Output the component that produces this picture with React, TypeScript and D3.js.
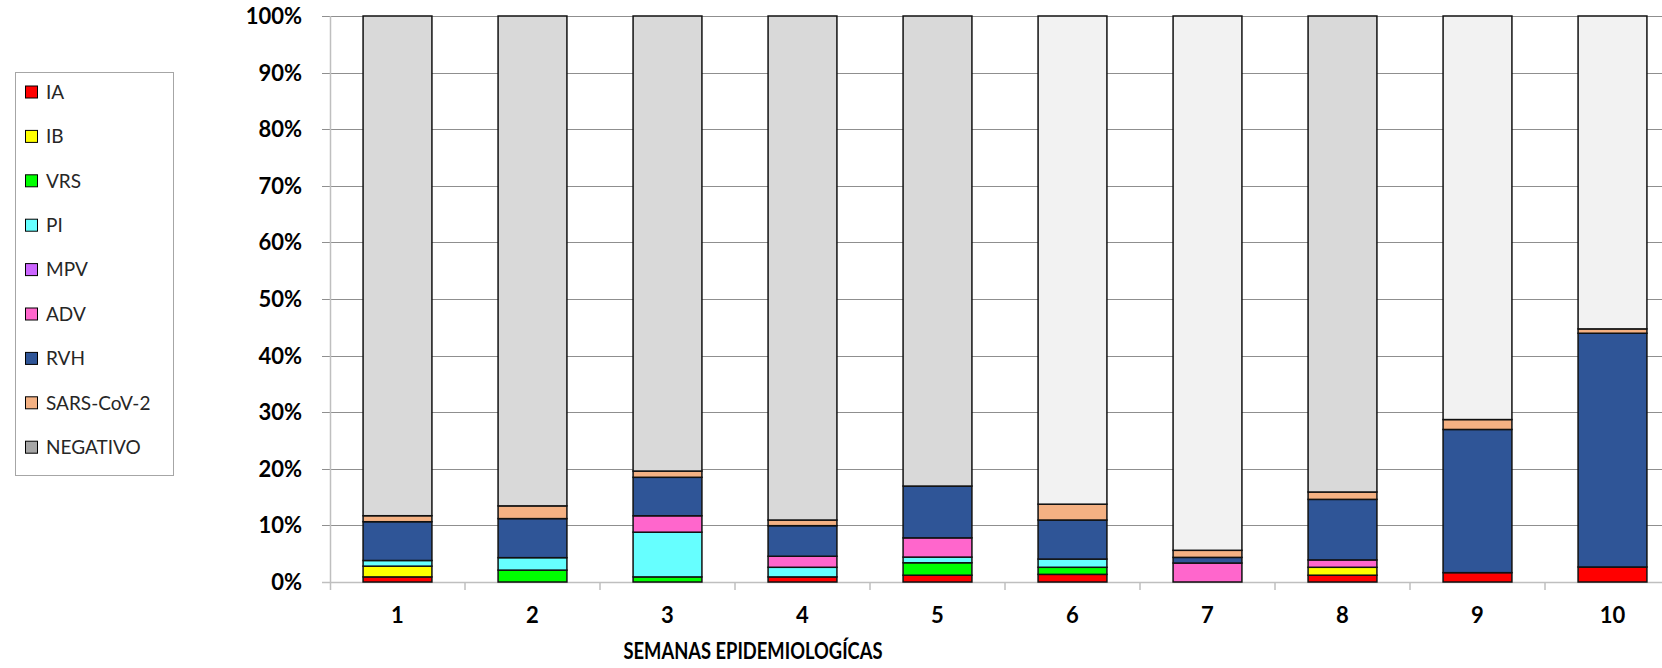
import React from 'react'
import * as d3 from 'd3'

const weeks = ['1', '2', '3', '4', '5', '6', '7', '8', '9', '10']
const seriesKeys = ['IA', 'IB', 'VRS', 'PI', 'MPV', 'ADV', 'RVH', 'SARS-CoV-2', 'NEGATIVO']

// percentages, per week
const ia = [0.9, 0, 0, 0.9, 1.2, 1.35, 0, 1.2, 1.65, 2.65]
const ib = [1.9, 0, 0, 0, 0, 0, 0, 1.4, 0, 0]
const vrs = [0, 2.1, 0.9, 0, 2.2, 1.25, 0, 0, 0, 0]
const pi = [1.0, 2.2, 7.9, 1.7, 1.0, 1.45, 0, 0, 0, 0]
const mpv = [0, 0, 0, 0, 0, 0, 0, 0, 0, 0]
const adv = [0, 0, 2.9, 1.95, 3.4, 0, 3.35, 1.3, 0, 0]
const rvh = [6.85, 6.9, 6.8, 5.4, 9.15, 6.9, 1.0, 10.7, 25.3, 41.3]
const sars = [1.06, 2.25, 1.1, 1.0, 0, 2.8, 1.25, 1.3, 1.75, 0.77]

const yTicks = [0, 10, 20, 30, 40, 50, 60, 70, 80, 90, 100]

const colors: Record<string, string> = {
  IA: '#FF0000',
  IB: '#FFFF00',
  VRS: '#00FF00',
  PI: '#66FFFF',
  MPV: '#CC66FF',
  ADV: '#FF66CC',
  RVH: '#2F5597',
  'SARS-CoV-2': '#F4B183',
  NEGATIVO: '#A6A6A6',
}
// the negative segment is shaded differently from week to week
const negFill = ['#D9D9D9', '#D9D9D9', '#D9D9D9', '#D9D9D9', '#D9D9D9', '#F2F2F2', '#F2F2F2', '#D9D9D9', '#F2F2F2', '#F2F2F2']

const W = 1662
const H = 668
const left = 330
const right = 1680
const top = 16
const bottom = 582

export default function App() {
  const rows = weeks.map((w, i) => {
    const r: Record<string, number | string> = {
      week: w,
      IA: ia[i],
      IB: ib[i],
      VRS: vrs[i],
      PI: pi[i],
      MPV: mpv[i],
      ADV: adv[i],
      RVH: rvh[i],
      'SARS-CoV-2': sars[i],
    }
    const sum = ia[i] + ib[i] + vrs[i] + pi[i] + mpv[i] + adv[i] + rvh[i] + sars[i]
    r.NEGATIVO = 100 - sum
    return r
  })

  const stack = d3.stack<Record<string, number | string>>().keys(seriesKeys).value((d, k) => Number(d[k]) || 0)
  const layers = stack(rows)

  const x = d3.scaleBand<string>().domain(weeks).range([left, right]).paddingInner(0.49).paddingOuter(0.245)
  const band = d3.scaleBand<string>().domain(weeks).range([left, right])
  const y = d3.scaleLinear().domain([0, 100]).range([bottom, top])

  const font = 'Lato, "Open Sans", sans-serif'

  return (
    <svg width={W} height={H} style={{ position: 'absolute', left: 0, top: 0, background: '#fff' }}>
      {/* gridlines */}
      {yTicks.filter((t) => t > 0).map((t) => (
        <line key={t} x1={left - 8} x2={W} y1={Math.round(y(t)) + 0.5} y2={Math.round(y(t)) + 0.5} stroke="#8f8f8f" strokeWidth={1} />
      ))}
      <line x1={left - 8} x2={W} y1={bottom + 0.5} y2={bottom + 0.5} stroke="#bfbfbf" strokeWidth={1.5} />
      <line x1={left + 0.5} x2={left + 0.5} y1={top} y2={bottom + 8} stroke="#bfbfbf" strokeWidth={1.5} />
      {weeks.map((w) => (
        <line key={w} x1={band(w)! + band.bandwidth()} x2={band(w)! + band.bandwidth()} y1={bottom} y2={bottom + 8} stroke="#bfbfbf" strokeWidth={1.5} />
      ))}

      {/* y labels */}
      {yTicks.map((t) => (
        <text key={t} x={302} y={y(t)} dy="0.36em" textAnchor="end" fontFamily={font} fontWeight="bold" fontSize={22} fill="#000">
          {t}%
        </text>
      ))}

      {/* bars */}
      {layers.map((layer) =>
        layer.map((seg, i) => {
          if (seg[1] - seg[0] <= 0) return null
          const fill = layer.key === 'NEGATIVO' ? negFill[i] : colors[layer.key]
          return (
            <rect
              key={layer.key + i}
              x={x(weeks[i])}
              width={x.bandwidth()}
              y={y(seg[1])}
              height={y(seg[0]) - y(seg[1])}
              fill={fill}
              stroke="#111"
              strokeWidth={1.5}
            />
          )
        })
      )}

      {/* x labels */}
      {weeks.map((w) => (
        <text key={w} x={band(w)! + band.bandwidth() / 2} y={615} dy="0.36em" textAnchor="middle" fontFamily={font} fontWeight="bold" fontSize={22} fill="#000">
          {w}
        </text>
      ))}
      <text x={753} y={651} dy="0.36em" textAnchor="middle" fontFamily={font} fontWeight="bold" fontSize={23} fill="#000" textLength={259} lengthAdjust="spacingAndGlyphs">
        SEMANAS EPIDEMIOLOGÍCAS
      </text>

      {/* legend */}
      <rect x={15.5} y={72.5} width={158} height={403} fill="#fff" stroke="#a6a6a6" strokeWidth={1} />
      {seriesKeys.map((k, i) => {
        const cy = 92 + i * 44.4
        return (
          <g key={k}>
            <rect x={25.5} y={cy - 6} width={12} height={12} fill={colors[k]} stroke="#000" strokeWidth={1} />
            <text x={46} y={cy} dy="0.36em" fontFamily={font} fontSize={19} fill="#262626">
              {k}
            </text>
          </g>
        )
      })}
    </svg>
  )
}
